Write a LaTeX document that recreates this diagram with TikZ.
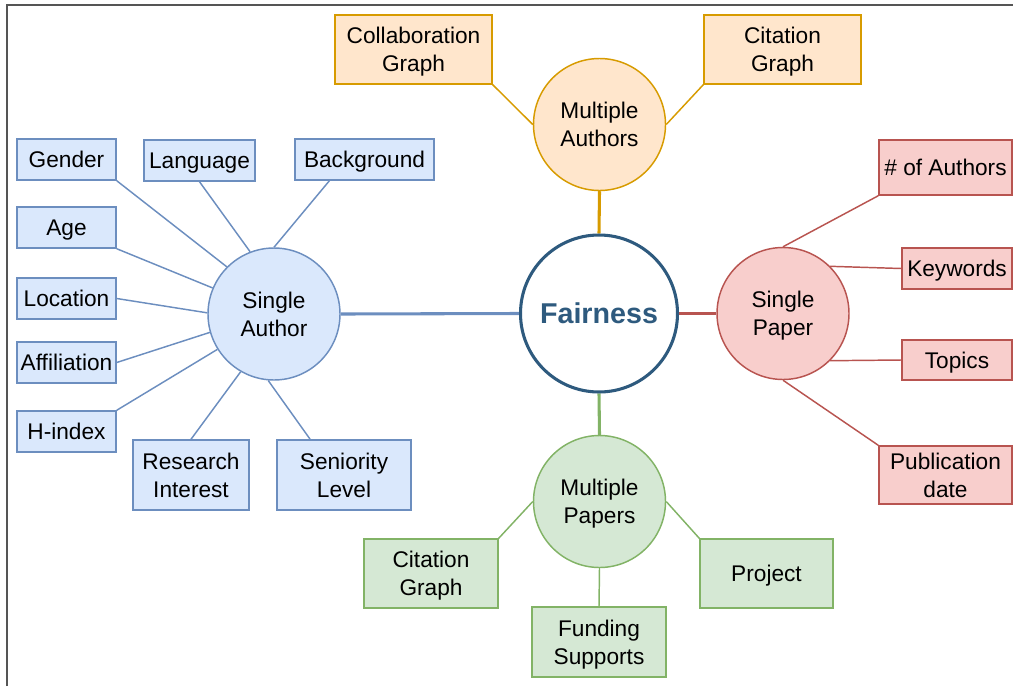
\documentclass[tikz,border=0pt]{standalone}
\usepackage{fontspec}
\setmainfont{Liberation Sans}
\usetikzlibrary{calc}
\definecolor{bfill}{HTML}{DAE8FC}\definecolor{bline}{HTML}{6C8EBF}
\definecolor{ofill}{HTML}{FFE6CC}\definecolor{oline}{HTML}{D79B00}
\definecolor{rfill}{HTML}{F8CECC}\definecolor{rline}{HTML}{B85450}
\definecolor{gfill}{HTML}{D5E8D4}\definecolor{gline}{HTML}{82B366}
\definecolor{fair}{HTML}{2E5A7E}
\definecolor{frame}{HTML}{555555}
\newcommand\mystrut{\rule[-4.5pt]{0pt}{21pt}}
\newcommand\bx[6]{\node[#1, minimum width=#4*0.75pt, minimum height=#5*0.75pt] (#2) at (#3) {\mystrut #6\mystrut};}
\begin{document}
\begin{tikzpicture}[x=0.75pt,y=-0.75pt,
  every node/.style={font=\fontsize{17}{21}\selectfont, align=center, inner sep=0pt},
  base/.style={draw, line width=1.1pt, rectangle},
  bbox/.style={base, fill=bfill, draw=bline},
  obox/.style={base, fill=ofill, draw=oline},
  rbox/.style={base, fill=rfill, draw=rline},
  gbox/.style={base, fill=gfill, draw=gline},
  ring/.style={circle, draw, line width=1.1pt, minimum size=132*0.75pt},
  bl/.style={draw=bline, line width=1.1pt},
  ol/.style={draw=oline, line width=1.1pt},
  rl/.style={draw=rline, line width=1.1pt},
  gl/.style={draw=gline, line width=1.1pt},
]
\useasboundingbox (0,0) rectangle (1013,686);
\draw[frame, line width=1.2pt] (7,686) -- (7,5) -- (1013,5);

% central
\node[circle, draw=fair, line width=2.3pt, minimum size=157*0.75pt, text=fair,
  font=\fontsize{21.5}{25}\selectfont\bfseries] (fa) at (599,313.5) {Fairness};
\node[ring, fill=ofill, draw=oline] (ma) at (599.5,124.5) {\mystrut Multiple\\Authors\mystrut};
\node[ring, fill=bfill, draw=bline] (sa) at (274,314) {\mystrut Single\\Author\mystrut};
\node[ring, fill=rfill, draw=rline] (sp) at (783,313.5) {\mystrut Single\\Paper\mystrut};
\node[ring, fill=gfill, draw=gline] (mp) at (599.5,501.5) {\mystrut Multiple\\Papers\mystrut};

\draw[oline, line width=2.3pt] (fa.north) -- (ma.south);
\draw[bline, line width=2.3pt] (fa.west) -- (sa.east);
\draw[rline, line width=2.3pt] (fa.east) -- (sp.west);
\draw[gline, line width=2.3pt] (fa.south) -- (mp.north);

% blue boxes
\bx{bbox}{gen}{66.5,159.5}{99}{41}{Gender}
\bx{bbox}{lan}{199.5,160.5}{111}{41}{Language}
\bx{bbox}{bac}{364.5,159.5}{139}{41}{Background}
\bx{bbox}{age}{66.5,227.5}{99}{41}{Age}
\bx{bbox}{loc}{66.5,298.5}{99}{41}{Location}
\bx{bbox}{aff}{66.5,362.5}{99}{41}{Affiliation}
\bx{bbox}{hin}{66.5,431.5}{99}{41}{H-index}
\bx{bbox}{res}{191,475}{116}{70}{Research\\Interest}
\bx{bbox}{sen}{344,475}{134}{70}{Seniority\\Level}

% orange boxes
\bx{obox}{col}{413.5,49.5}{157}{69}{Collaboration\\Graph}
\bx{obox}{cit}{782.5,49.5}{157}{69}{Citation\\Graph}

% red boxes
\bx{rbox}{noa}{945.5,167.5}{133}{55}{\# of Authors}
\bx{rbox}{key}{957,268.5}{110}{41}{Keywords}
\bx{rbox}{top}{957,360}{110}{40}{Topics}
\bx{rbox}{pub}{945.5,475}{133}{58}{Publication\\date}

% green boxes
\bx{gbox}{cgb}{431,573.5}{134}{69}{Citation\\Graph}
\bx{gbox}{fun}{599,642}{134}{70}{Funding\\Supports}
\bx{gbox}{pro}{766.5,573.5}{133}{69}{Project}

% single author links
\draw[bl] (gen.south east) -- (sa.135);
\draw[bl] (lan.south) -- (sa.111);
\draw[bl] ($(bac.south west)!0.25!(bac.south east)$) -- (sa.90);
\draw[bl] (age.south east) -- (sa.157);
\draw[bl] (loc.east) -- (sa.179);
\draw[bl] (aff.east) -- (sa.196);
\draw[bl] (hin.north east) -- (sa.212);
\draw[bl] (res.north) -- (sa.240);
\draw[bl] ($(sen.north west)!0.25!(sen.north east)$) -- (sa.265);

% multiple authors links
\draw[ol] (col.south east) -- (ma.west);
\draw[ol] (cit.south west) -- (ma.east);

% single paper links
\draw[rl] (noa.south west) -- (sp.north);
\draw[rl] (key.west) -- (sp.45);
\draw[rl] (top.west) -- (sp.-45);
\draw[rl] (pub.north west) -- (sp.south);

% multiple papers links
\draw[gl] (cgb.north east) -- (mp.west);
\draw[gl] (pro.north west) -- (mp.east);
\draw[gl] (fun.north) -- (mp.south);
\end{tikzpicture}
\end{document}
